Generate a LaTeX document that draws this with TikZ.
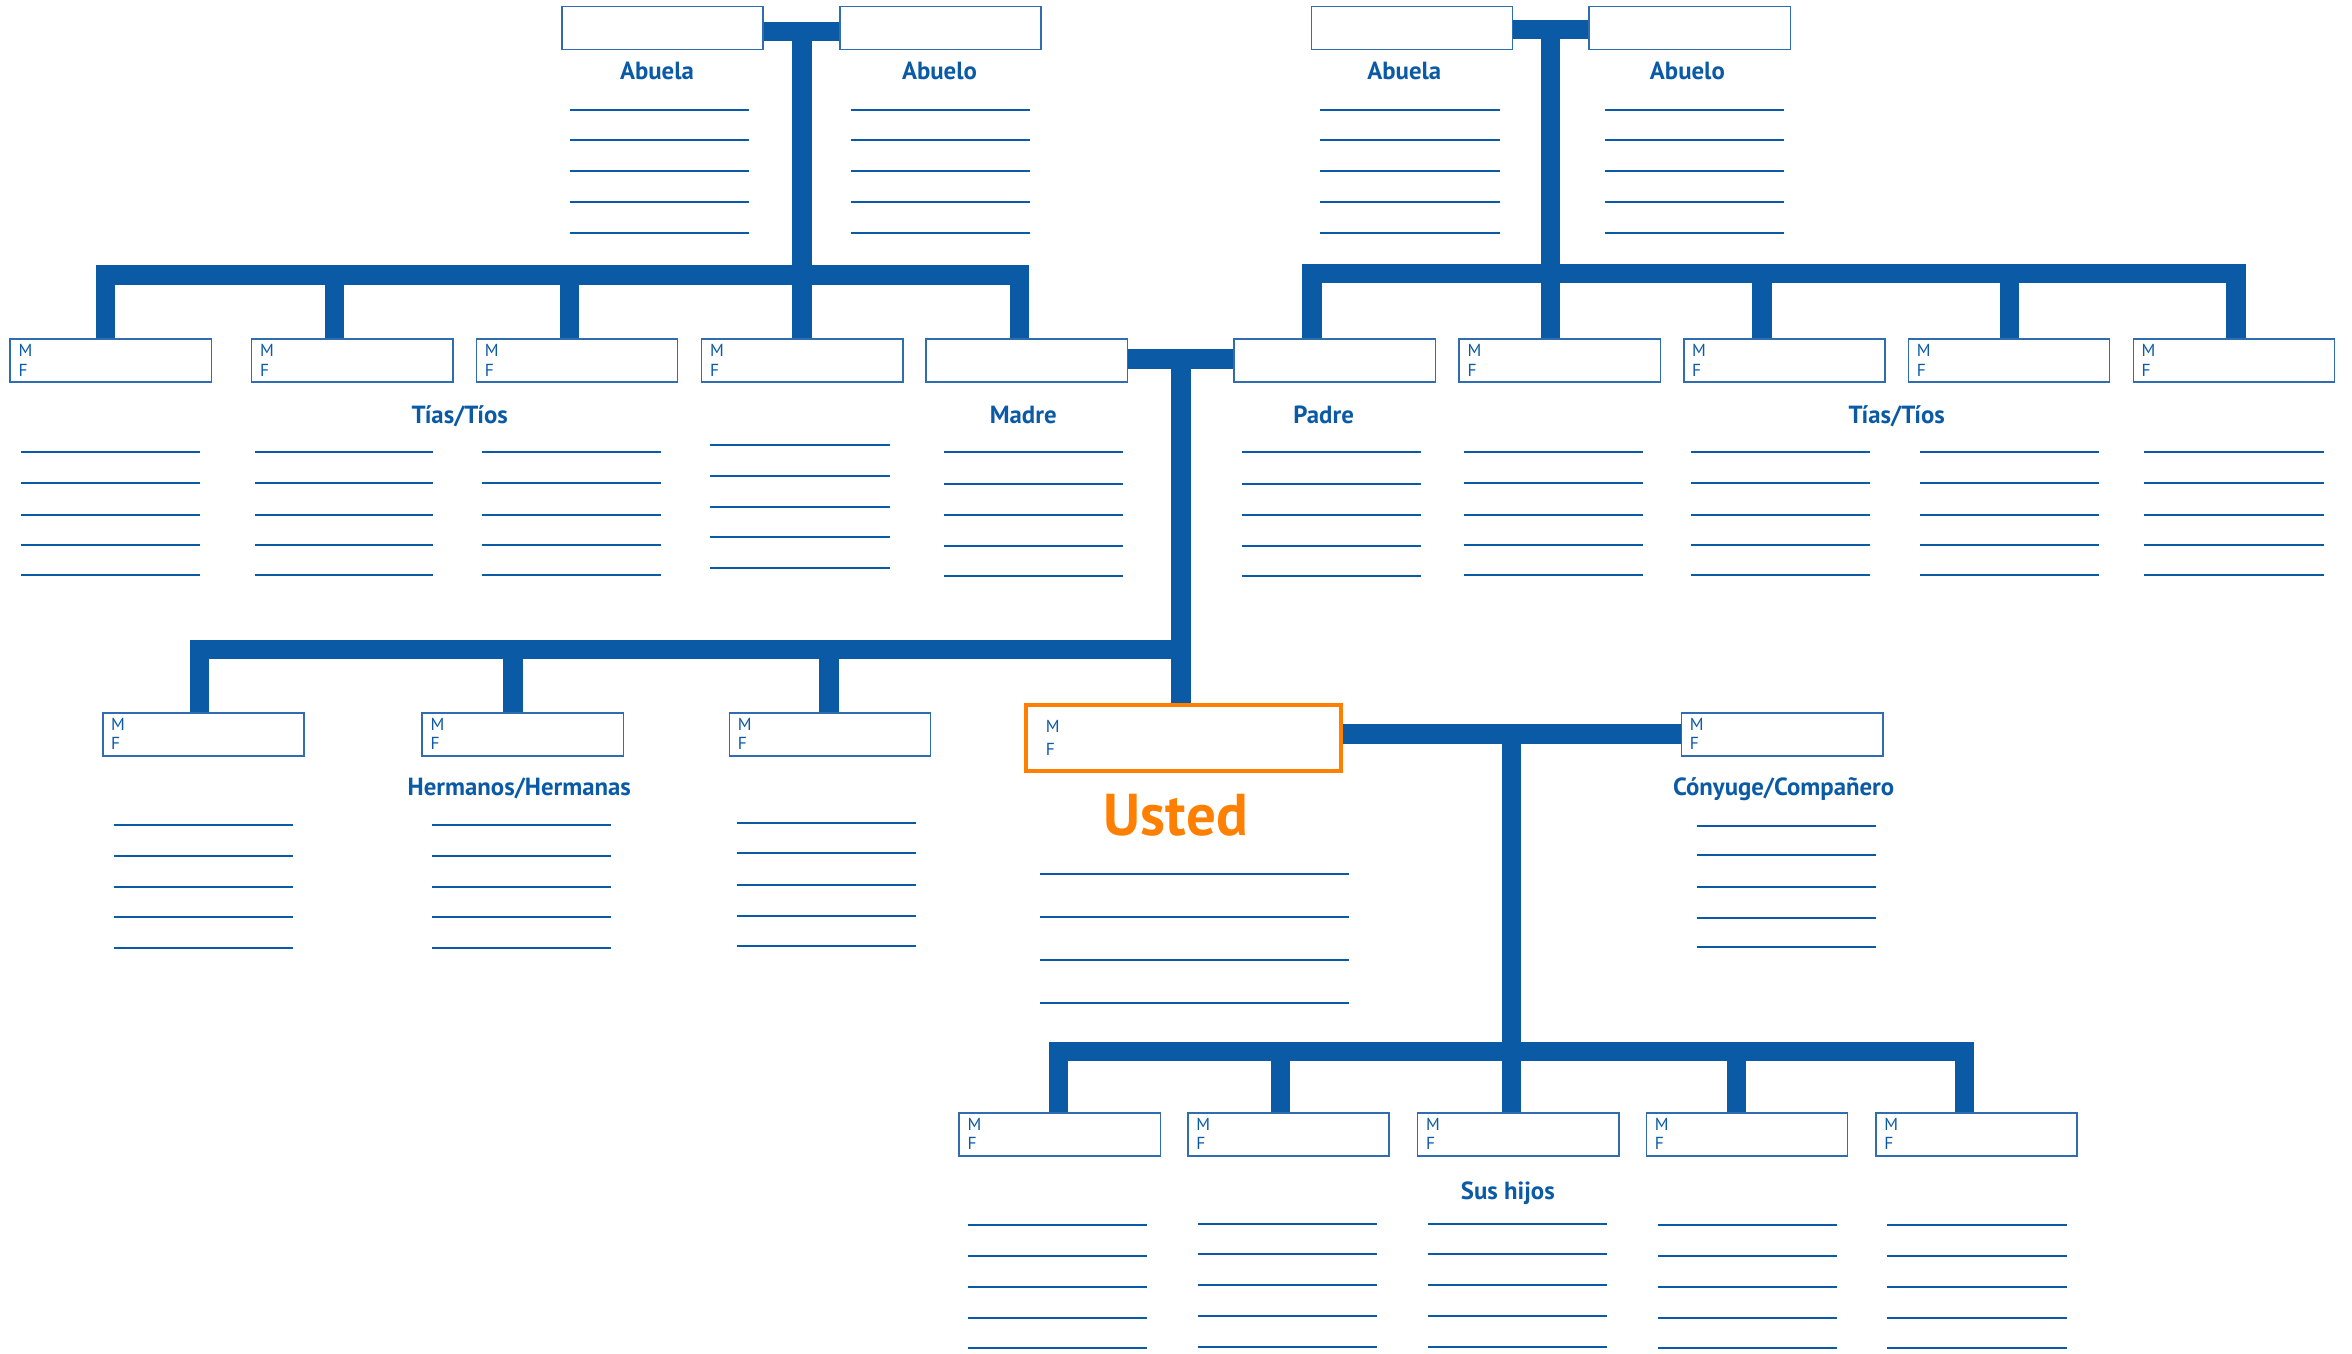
\documentclass[tikz,border=0pt]{standalone}
\usepackage{fontspec}
\setmainfont{PT Sans}
\usetikzlibrary{calc}
\definecolor{fblue}{HTML}{0B5AA6}
\definecolor{bblue}{HTML}{2F6DB0}
\definecolor{uorange}{HTML}{FF8000}
\pgfdeclarelayer{bg}
\pgfsetlayers{bg,main}
\tikzset{
 bar/.style={draw=fblue, line width=9.75pt, line join=miter},
 pbox/.style={draw=bblue, line width=0.8pt, fill=white, minimum width=100.6pt, minimum height=21.5pt, inner sep=0pt, outer sep=0pt},
 ubox/.style={draw=uorange, line width=2pt, fill=white, minimum width=157.4pt, minimum height=33.3pt, inner sep=0pt, outer sep=0pt},
 mftext/.style={text=fblue, font=\fontsize{8.7}{9}\selectfont, inner sep=0pt, anchor=base west},
 ttl/.style={text=fblue, font=\fontsize{12.4}{14}\selectfont\bfseries, inner sep=0pt, anchor=base},
 fl/.style={draw=fblue, line width=0.9pt},
}
\newcommand\mfbox[3]{%
 \node[pbox] (#1) at (#2,#3) {};
 \node[mftext] (#1-m) at ([xshift=4pt,yshift=-8.65pt]#1.north west) {M};
 \node[mftext] (#1-f) at ([xshift=4pt,yshift=-18.5pt]#1.north west) {F};
}
\newcommand\flines[3]{\foreach \yy in {#3} {\draw[fl] (#1,\yy) -- (#2,\yy);}}
\begin{document}
\begin{tikzpicture}[x=0.5pt,y=-0.5pt]
\useasboundingbox (0,0) rectangle (2352,1354);
% grandparents
\node[pbox] (lgma) at (662.5,28) {};
\node[pbox] (lgpa) at (940.3,28) {};
\node[pbox] (rgma) at (1411.9,28) {};
\node[pbox] (rgpa) at (1689.8,28) {};
\node[ttl] (t-lgma) at (657,80) {Abuela};
\node[ttl] (t-lgpa) at (939.5,80) {Abuelo};
\node[ttl] (t-rgma) at (1404.3,80) {Abuela};
\node[ttl] (t-rgpa) at (1687.4,80) {Abuelo};
% aunts / parents row
\mfbox{la1}{110.7}{360.6}
\mfbox{la2}{352.2}{360.6}
\mfbox{la3}{577}{360.6}
\mfbox{la4}{802.2}{360.6}
\node[pbox] (madre) at (1026.8,360.6) {};
\node[pbox] (padre) at (1334.7,360.6) {};
\mfbox{ra1}{1559.7}{360.6}
\mfbox{ra2}{1784.4}{360.6}
\mfbox{ra3}{2009}{360.6}
\mfbox{ra4}{2233.9}{360.6}
\node[ttl] (t-la) at (459.8,423) {Tías/Tíos};
\node[ttl] (t-madre) at (1023.2,423) {Madre};
\node[ttl] (t-padre) at (1323.6,423) {Padre};
\node[ttl] (t-ra) at (1896.7,423) {Tías/Tíos};
% siblings, you, spouse
\mfbox{sib1}{203.4}{734.3}
\mfbox{sib2}{522.7}{734.3}
\mfbox{sib3}{830}{734.3}
\mfbox{spouse}{1782.1}{734.2}
\node[ubox] (usted) at (1183.6,738) {};
\node[mftext] (usted-m) at (1045.5,732.7) {M};
\node[mftext] (usted-f) at (1045.5,755.3) {F};
\node[ttl] (t-sib) at (519.3,795.7) {Hermanos/Hermanas};
\node[ttl] (t-spouse) at (1783.6,795) {Cónyuge/Compañero};
\node[text=uorange, font=\fontsize{29.5}{31}\selectfont\bfseries, inner sep=0pt, anchor=base] (t-usted) at (1175.8,835) {Usted};
% children
\mfbox{ch1}{1059.8}{1134.2}
\mfbox{ch2}{1288.6}{1134.2}
\mfbox{ch3}{1518.2}{1134.2}
\mfbox{ch4}{1747}{1134.2}
\mfbox{ch5}{1976.6}{1134.2}
\node[ttl] (t-ch) at (1507.8,1199.3) {Sus hijos};
% form lines
\flines{569.6}{748.7}{110,140,171,202,233}
\flines{851.3}{1030.4}{110,140,171,202,233}
\flines{1320}{1499.7}{110,140,171,202,233}
\flines{1605}{1784.2}{110,140,171,202,233}
\flines{21.4}{200.4}{452,483,515,545,575}
\flines{254.5}{433}{452,483,515,545,575}
\flines{482}{660.7}{452,483,515,545,575}
\flines{710.3}{889.7}{445,476,507,537,568}
\flines{944}{1123.3}{452,484,515,546,576}
\flines{1241.7}{1420.9}{452,484,515,546,576}
\flines{1463.8}{1642.9}{452,483,515,545,575}
\flines{1691.4}{1870}{452,483,515,545,575}
\flines{1920.3}{2098.8}{452,483,515,545,575}
\flines{2144.4}{2323.5}{452,483,515,545,575}
\flines{113.9}{293.3}{825,856,887,917,948}
\flines{431.7}{610.5}{825,856,887,917,948}
\flines{736.7}{915.5}{823,853,885,916,946}
\flines{1697}{1876}{826,855,887,918,947}
\flines{1040}{1348.5}{874,917,960,1003}
\flines{968.3}{1146.6}{1225,1256,1287,1318,1348}
\flines{1197.9}{1377}{1224,1254,1285,1316,1347}
\flines{1427.5}{1607.3}{1224,1254,1285,1316,1347}
\flines{1657.8}{1836.9}{1225,1256,1287,1318,1348}
\flines{1886.7}{2067.3}{1225,1256,1287,1318,1348}
% connectors
\begin{pgfonlayer}{bg}
\coordinate (gL) at (802,31.4);
\draw[bar] (lgma.east |- gL) -- (lgpa.west |- gL);
\draw[bar] (gL) -- (gL |- la4.north);
\coordinate (aL1) at (105.4,275);
\coordinate (aL2) at (334.4,275);
\coordinate (aL3) at (569.6,275);
\coordinate (aL5) at (1019.7,275);
\draw[bar] (aL1 |- la1.north) -- (aL1) -- (aL5) -- (aL5 |- madre.north);
\draw[bar] (aL2) -- (aL2 |- la2.north);
\draw[bar] (aL3) -- (aL3 |- la3.north);
\coordinate (gR) at (1550.7,29.7);
\draw[bar] (rgma.east |- gR) -- (rgpa.west |- gR);
\draw[bar] (gR) -- (gR |- ra1.north);
\coordinate (aR0) at (1312,273.7);
\coordinate (aR2) at (1761.8,273.7);
\coordinate (aR3) at (2009.6,273.7);
\coordinate (aR4) at (2236,273.7);
\draw[bar] (aR0 |- padre.north) -- (aR0) -- (aR4) -- (aR4 |- ra4.north);
\draw[bar] (aR2) -- (aR2 |- ra2.north);
\draw[bar] (aR3) -- (aR3 |- ra3.north);
\coordinate (pJ) at (1181,359);
\draw[bar] (madre.east |- pJ) -- (padre.west |- pJ);
\draw[bar] (pJ) -- (pJ |- usted.north);
\coordinate (sJ0) at (199.6,649.7);
\coordinate (sJ1) at (512.9,649.7);
\coordinate (sJ2) at (828.8,649.7);
\coordinate (sJe) at (1181,649.7);
\draw[bar] (sJ0 |- sib1.north) -- (sJ0) -- (sJe);
\draw[bar] (sJ1) -- (sJ1 |- sib2.north);
\draw[bar] (sJ2) -- (sJ2 |- sib3.north);
\coordinate (cJ) at (1511.6,734.2);
\draw[bar] (usted.east |- cJ) -- (spouse.west |- cJ);
\draw[bar] (cJ) -- (cJ |- ch3.north);
\coordinate (kJ1) at (1058.6,1051.4);
\coordinate (kJ2) at (1280.6,1051.4);
\coordinate (kJ4) at (1736.3,1051.4);
\coordinate (kJ5) at (1964.3,1051.4);
\draw[bar] (kJ1 |- ch1.north) -- (kJ1) -- (kJ5) -- (kJ5 |- ch5.north);
\draw[bar] (kJ2) -- (kJ2 |- ch2.north);
\draw[bar] (kJ4) -- (kJ4 |- ch4.north);
\end{pgfonlayer}
\end{tikzpicture}
\end{document}
